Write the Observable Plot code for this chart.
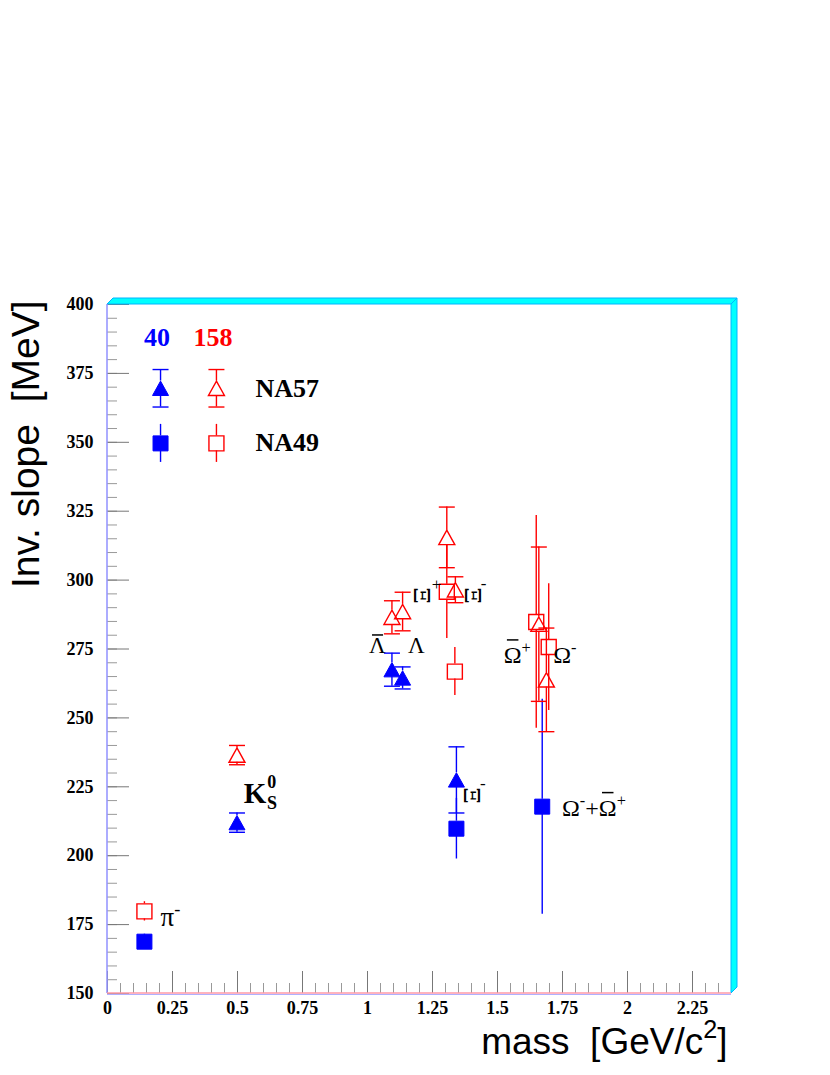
<!DOCTYPE html>
<html><head><meta charset="utf-8">
<script src="https://cdn.jsdelivr.net/npm/d3@7"></script>
<script src="https://cdn.jsdelivr.net/npm/@observablehq/plot@0.6"></script>
<style>
body{margin:0;background:#fff}
#chart svg{display:block}
#chart svg text{white-space:pre}
</style>
</head><body><div id="chart"></div>
<script>
// ---------- data ----------
const xTickLabels = [0, 0.25, 0.5, 0.75, 1, 1.25, 1.5, 1.75, 2, 2.25];
const yTickLabels = [150, 175, 200, 225, 250, 275, 300, 325, 350, 375, 400];

// NA57 (triangles, with caps) — 40 A GeV (blue)
const na57_40 = [
  {p: "K0S",  mass: 0.498, T: 212.0, err: 3.5},
  {p: "Λbar", mass: 1.094, T: 267.5, err: 6.0},
  {p: "Λ",    mass: 1.135, T: 264.5, err: 4.0},
  {p: "Ξ-",   mass: 1.342, T: 227.5, err: 12.0}
];
// NA57 — 158 A GeV (red)
const na57_158 = [
  {p: "K0S",   mass: 0.498, T: 236.5, err: 3.5},
  {p: "Λbar",  mass: 1.094, T: 286.5, err: 6.0},
  {p: "Λ",     mass: 1.135, T: 288.6, err: 7.0},
  {p: "Ξbar+", mass: 1.305, T: 315.5, err: 11.0},
  {p: "Ξ-",    mass: 1.338, T: 296.5, err: 4.7},
  {p: "Ωbar+", mass: 1.659, T: 284.0, err: 28.0},
  {p: "Ω-",    mass: 1.688, T: 263.8, err: 18.8}
];
// NA49 (squares) — 40 A GeV (blue)
const na49_40 = [
  {p: "π-",       mass: 0.142, T: 168.8, err: 1.0},
  {p: "Ξ-",       mass: 1.342, T: 209.8, err: 11.0},
  {p: "Ω-+Ωbar+", mass: 1.672, T: 217.8, err: 39.0}
];
// NA49 — 158 A GeV (red)
const na49_158 = [
  {p: "π-",    mass: 0.142, T: 179.8, err: 3.5},
  {p: "Ξbar+", mass: 1.305, T: 295.8, err: 17.0},
  {p: "Ξ-",    mass: 1.336, T: 266.8, err: 8.7},
  {p: "Ωbar+", mass: 1.649, T: 284.8, err: 38.6},
  {p: "Ω-",    mass: 1.697, T: 275.7, err: 23.0}
];

// legend (drawn in data coordinates, like the original)
const legendEnergy = [{text: "40", x: 0.19, y: 387.9, c: "40"}, {text: "158", x: 0.406, y: 387.9, c: "158"}];
const legendNA57 = [{mass: 0.204, T: 369.6, err: 6.8, c: "40"}, {mass: 0.419, T: 369.6, err: 6.8, c: "158"}];
const legendNA49 = [{mass: 0.204, T: 349.6, err: 6.9, c: "40"}, {mass: 0.419, T: 349.6, err: 6.9, c: "158"}];
const legendNames = [{text: "NA57", x: 0.569, y: 369.3}, {text: "NA49", x: 0.569, y: 350.0}];

// particle labels  (^{} superscript, ~{} overbar)
const lambdaLabels = [{text: "~{Λ}", x: 1.038, y: 276.1}, {text: "Λ", x: 1.188, y: 276.1}];
const omegaLabels = [
  {text: "~{Ω}^{+}", x: 1.524, y: 272.6},
  {text: "Ω^{-}", x: 1.714, y: 272.6},
  {text: "Ω^{-}+~{Ω}^{+}", x: 1.748, y: 217.2}
];
const xiBarred = [{x: 1.208, y: 294.4}];
const xiPlain = [{x: 1.402, y: 294.4}, {x: 1.400, y: 221.8}];
const xiCharges = [{text: "+", x: 1.266, y: 298.5}, {text: "-", x: 1.446, y: 298.7}, {text: "-", x: 1.444, y: 226.1}];
const kLabel = [{text: "K", x: 0.524, y: 222.5}];
const kScripts = [{text: "0", x: 0.632, y: 226.6}, {text: "S", x: 0.633, y: 219.1}];
const piLabel = [{text: "π^{-}", x: 0.204, y: 177.6}];

const xTitle = "mass  [GeV/c^{2}]";
const yTitle = "Inv. slope  [MeV]";

// ---------- styling ----------
const colors = {"40": "#0000ff", "158": "#ff0000"};
const triSym = {draw(c, size) { const r = Math.sqrt(size / Math.PI), h = r * 0.9; c.moveTo(0, -h); c.lineTo(r, h); c.lineTo(-r, h); c.closePath(); }};
const sqSym = {draw(c, size) { const r = Math.sqrt(size / Math.PI); c.rect(-r, -r, 2 * r, 2 * r); }};
const capSym = {draw(c, size) { const r = Math.sqrt(size / Math.PI); c.moveTo(-r, 0); c.lineTo(r, 0); }};
const TRI_R = 8, TRI_HALF = 7.2, SQ_R = 7.5;

function series(data, color, kind, open) {
  const half = kind === "tri" ? TRI_HALF : SQ_R;
  const stroke = color;
  const marks = [
    Plot.ruleX(data, {x: "mass", y1: d => d.T + d.err, y2: "T", insetBottom: half, stroke, strokeWidth: 1.4}),
    Plot.ruleX(data, {x: "mass", y1: "T", y2: d => d.T - d.err, insetTop: half, stroke, strokeWidth: 1.4})
  ];
  if (kind === "tri") {
    marks.push(Plot.dot(data, {x: "mass", y: d => d.T + d.err, symbol: capSym, r: 8, stroke, strokeWidth: 1.4}));
    marks.push(Plot.dot(data, {x: "mass", y: d => d.T - d.err, symbol: capSym, r: 8, stroke, strokeWidth: 1.4}));
  }
  marks.push(Plot.dot(data, {
    x: "mass", y: "T", symbol: kind === "tri" ? triSym : sqSym, r: kind === "tri" ? TRI_R : SQ_R,
    fill: open ? "none" : stroke, stroke, strokeWidth: open ? 1.4 : 1
  }));
  return marks;
}

const minorX = d3.range(0, 2.4001, 0.05).map(v => +v.toFixed(2));
const minorY = d3.range(150, 400.001, 5);

const plot = Plot.plot({
  width: 830, height: 1075,
  marginLeft: 107, marginRight: 99, marginTop: 304, marginBottom: 82,
  x: {domain: [0, 2.4]},
  y: {domain: [150, 400]},
  style: {fontFamily: "Liberation Serif", background: "white", color: "black"},
  marks: [
    // ticks (inside)
    Plot.axisX(minorX, {anchor: "bottom", tickSize: -10, text: null, stroke: "#999", label: null}),
    Plot.axisX(xTickLabels, {anchor: "bottom", tickSize: -22, text: null, stroke: "#777", label: null}),
    Plot.axisY(minorY, {anchor: "left", tickSize: -10, text: null, stroke: "#999", label: null}),
    Plot.axisY(yTickLabels, {anchor: "left", tickSize: -22, text: null, stroke: "#777", label: null}),
    // tick labels
    Plot.axisX(xTickLabels, {anchor: "bottom", tickSize: 0, tickPadding: 8, tickFormat: d => String(d), fontSize: 18, fontWeight: "bold", label: null, fill: "black"}),
    Plot.axisY(yTickLabels, {anchor: "left", tickSize: 0, tickPadding: 14, tickFormat: d => String(d), fontSize: 18, fontWeight: "bold", label: null, fill: "black"}),
    // data
    ...series(na57_40, colors["40"], "tri", false),
    ...series(na49_40, colors["40"], "sq", false),
    ...series(na57_158, colors["158"], "tri", true),
    ...series(na49_158, colors["158"], "sq", true),
    // legend
    Plot.text(legendEnergy, {x: "x", y: "y", text: "text", fill: d => colors[d.c], fontSize: 26, fontWeight: "bold"}),
    ...series(legendNA57.filter(d => d.c === "40"), colors["40"], "tri", false),
    ...series(legendNA57.filter(d => d.c === "158"), colors["158"], "tri", true),
    ...series(legendNA49.filter(d => d.c === "40"), colors["40"], "sq", false),
    ...series(legendNA49.filter(d => d.c === "158"), colors["158"], "sq", true),
    Plot.text(legendNames, {x: "x", y: "y", text: "text", textAnchor: "start", fontSize: 26, fontWeight: "bold", fill: "black"}),
    // particle labels
    Plot.text(lambdaLabels, {x: "x", y: "y", text: "text", fontSize: 23, fill: "black", ariaLabel: "lambda-labels"}),
    Plot.text(omegaLabels, {x: "x", y: "y", text: "text", textAnchor: "start", fontSize: 24, fill: "black", ariaLabel: "omega-labels"}),
    Plot.text(xiBarred, {x: "x", y: "y", text: () => "Ξ", rotate: 90, fontSize: 23, fontFamily: "DejaVu Serif", fill: "black", ariaLabel: "xi-barred"}),
    Plot.text(xiPlain, {x: "x", y: "y", text: () => "Ξ", rotate: 90, fontSize: 23, fontFamily: "DejaVu Serif", fill: "black"}),
    Plot.text(xiCharges, {x: "x", y: "y", text: "text", fontSize: 17, fill: "black"}),
    Plot.text(kLabel, {x: "x", y: "y", text: "text", textAnchor: "start", fontSize: 29, fontWeight: "bold", fill: "black"}),
    Plot.text(kScripts, {x: "x", y: "y", text: "text", fontSize: 18, fontWeight: "bold", fill: "black"}),
    Plot.text(piLabel, {x: "x", y: "y", text: "text", textAnchor: "start", fontSize: 27, fill: "black"}),
    // axis titles
    Plot.text([xTitle], {frameAnchor: "bottom-right", textAnchor: "end", dx: -4, dy: 60, fontSize: 37, fontFamily: "Liberation Sans", fill: "black"}),
    Plot.text([yTitle], {frameAnchor: "top-left", textAnchor: "end", rotate: -90, dx: -96, dy: -4, fontSize: 39, fontFamily: "Liberation Sans", fill: "black"})
  ]
});

document.getElementById("chart").appendChild(plot);
const svg = d3.select(plot);

// rich text: ^{...} superscript, _{...} subscript, ~{...} overbar
svg.selectAll("text").each(function () {
  const t = this.textContent;
  if (!/[\^_~]\{/.test(t)) return;
  const fs = parseFloat(getComputedStyle(this).fontSize) || 16;
  const el = d3.select(this);
  el.selectAll("*").remove();
  el.text(null);
  const re = /([\^_~])\{([^}]*)\}|([^\^_~]+)/g;
  let m, cur = 0;
  const bars = [];
  while ((m = re.exec(t))) {
    if (m[3] || m[1] === "~") {
      const ts = el.append("tspan").attr("dy", (0 - cur) + "px").text(m[3] || m[2]);
      if (m[1] === "~") bars.push(ts.node());
      cur = 0;
    } else {
      const target = m[1] === "^" ? -0.42 * fs : 0.25 * fs;
      el.append("tspan").attr("dy", (target - cur) + "px").attr("font-size", (0.68 * fs) + "px").text(m[2]);
      cur = target;
    }
  }
  if (bars.length) {
    const grp = this.closest("g[aria-label]");
    const raise = grp && grp.getAttribute("aria-label") === "lambda-labels" ? 1.13 : 0.82;
    const parent = d3.select(this.parentNode);
    const tr = this.getAttribute("transform");
    const bbText = this.getBBox();
    const baseline = bbText.y + 0.891 * fs;
    for (const b of bars) {
      const bb = b.getBBox();
      const cx = bb.x + bb.width / 2, w = 0.48 * fs;
      parent.append("line").attr("transform", tr)
        .attr("x1", cx - w / 2).attr("x2", cx + w / 2)
        .attr("y1", baseline - raise * fs).attr("y2", baseline - raise * fs)
        .attr("stroke", "black").attr("stroke-width", 1.5);
    }
  }
});

// overbar for the rotated Ξ
svg.selectAll('g[aria-label="xi-barred"] text').each(function () {
  const m = /translate\(([-\d.]+),\s*([-\d.]+)\)/.exec(this.getAttribute("transform") || "");
  if (!m) return;
  const ax = +m[1], ay = +m[2], w = 12;
  d3.select(this.parentNode).append("line")
    .attr("x1", ax - w / 2).attr("x2", ax + w / 2)
    .attr("y1", ay - 17).attr("y2", ay - 17)
    .attr("stroke", "black").attr("stroke-width", 1.5);
});

// ROOT-style 3D frame
const sx = plot.scale("x"), sy = plot.scale("y");
const x0 = sx.apply(0), x1 = sx.apply(2.4), y0 = sy.apply(150), y1 = sy.apply(400), d = 6;
const g = svg.append("g");
g.append("polygon").attr("points", [[x0, y1], [x0 + d, y1 - d], [x1 + d, y1 - d], [x1, y1]].join(" "))
  .attr("fill", "#00ffff").attr("stroke", "#00b4ff").attr("stroke-width", 1);
g.append("polygon").attr("points", [[x1, y1], [x1 + d, y1 - d], [x1 + d, y0 - d], [x1, y0]].join(" "))
  .attr("fill", "#00ffff").attr("stroke", "#00b4ff").attr("stroke-width", 1);
g.append("line").attr("x1", x0).attr("x2", x0).attr("y1", y1).attr("y2", y0).attr("stroke", "#9090ff").attr("stroke-width", 1.5);
g.append("line").attr("x1", x0).attr("x2", x1).attr("y1", y0).attr("y2", y0).attr("stroke", "#ff9aa8").attr("stroke-width", 1.5);
g.append("line").attr("x1", x0).attr("x2", x1).attr("y1", y0 + 1.5).attr("y2", y0 + 1.5).attr("stroke", "#b0b0ff").attr("stroke-width", 1);
</script>
</body></html>
